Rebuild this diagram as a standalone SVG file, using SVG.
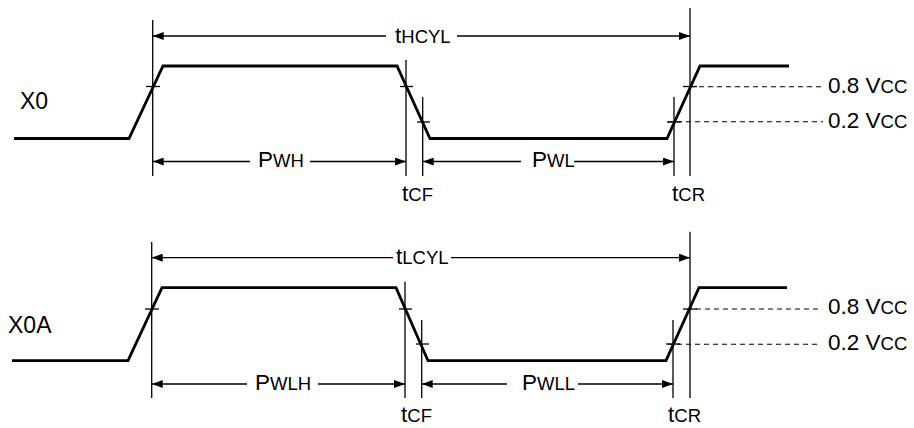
<svg xmlns="http://www.w3.org/2000/svg" width="914" height="428" viewBox="0 0 914 428">
<style>
.wave{fill:none;stroke:#000;stroke-width:2.8;stroke-linejoin:miter}
.ref{stroke:#000;stroke-width:1.3;fill:none}
.dim{stroke:#000;stroke-width:1.3;fill:none}
.dash{stroke:#000;stroke-width:1.1;stroke-dasharray:5 4;fill:none}
text{font-family:"Liberation Sans",Arial,sans-serif;font-size:22.5px;fill:#000}
.s{font-size:18.5px}
.lbl{font-size:23px}
</style>
<defs>
<marker id="ah" viewBox="0 0 11 8" refX="11" refY="4" markerWidth="11" markerHeight="8" markerUnits="userSpaceOnUse" orient="auto-start-reverse">
<path d="M0,0 L11,4 L0,8 Z" fill="#000"/>
</marker>
</defs>
<rect width="914" height="428" fill="#fff"/>

<g id="X0">
<polyline class="wave" points="14,138.5 129,138.5 163,66 397,66 430,138.5 667,138.5 700,66 789,66"/>
<text class="lbl" x="20" y="109">X0</text>
</g>
<g id="X0A">
<polyline class="wave" points="12,360.7 128,360.7 162,287.7 396,287.7 428,360.7 666,360.7 699,287.7 787,287.7"/>
<text class="lbl" x="8" y="333">X0A</text>
</g>

<g id="connectors">
<line class="ref" x1="152.7" y1="20" x2="152.7" y2="176"/>
<line class="ref" x1="406" y1="60" x2="406" y2="176"/>
<line class="ref" x1="422.7" y1="97" x2="422.7" y2="176"/>
<line class="ref" x1="674" y1="97" x2="674" y2="176"/>
<line class="ref" x1="690" y1="8" x2="690" y2="176"/>
<line class="ref" x1="146" y1="86.5" x2="160" y2="86.5"/>
<line class="ref" x1="400" y1="86.5" x2="413" y2="86.5"/>
<line class="ref" x1="417" y1="122" x2="430" y2="122"/>
<line class="ref" x1="667" y1="122" x2="681" y2="122"/>
<line class="ref" x1="683" y1="86.5" x2="697" y2="86.5"/>
<line class="dash" x1="690" y1="86.7" x2="823" y2="86.7"/>
<line class="dash" x1="668" y1="121.7" x2="823" y2="121.7"/>
<line class="dim" x1="152.7" y1="36" x2="386" y2="36" marker-start="url(#ah)"/>
<line class="dim" x1="457" y1="36" x2="690" y2="36" marker-end="url(#ah)"/>
<line class="dim" x1="152.7" y1="161.5" x2="250" y2="161.5" marker-start="url(#ah)"/>
<line class="dim" x1="310" y1="161.5" x2="406" y2="161.5" marker-end="url(#ah)"/>
<line class="dim" x1="422.7" y1="161.5" x2="521" y2="161.5" marker-start="url(#ah)"/>
<line class="dim" x1="574" y1="161.5" x2="674" y2="161.5" marker-end="url(#ah)"/>

<line class="ref" x1="151.7" y1="242" x2="151.7" y2="398"/>
<line class="ref" x1="405" y1="281.7" x2="405" y2="398"/>
<line class="ref" x1="421.7" y1="320" x2="421.7" y2="398"/>
<line class="ref" x1="673" y1="320" x2="673" y2="398"/>
<line class="ref" x1="690" y1="231.7" x2="690" y2="398"/>
<line class="ref" x1="145" y1="309" x2="159" y2="309"/>
<line class="ref" x1="399" y1="309" x2="412" y2="309"/>
<line class="ref" x1="416" y1="344" x2="429" y2="344"/>
<line class="ref" x1="666" y1="344" x2="680" y2="344"/>
<line class="ref" x1="683" y1="309" x2="697" y2="309"/>
<line class="dash" x1="687" y1="309" x2="821" y2="309"/>
<line class="dash" x1="668" y1="344.3" x2="821" y2="344.3"/>
<line class="dim" x1="151.7" y1="257.7" x2="393" y2="257.7" marker-start="url(#ah)"/>
<line class="dim" x1="451" y1="257.7" x2="690" y2="257.7" marker-end="url(#ah)"/>
<line class="dim" x1="151.7" y1="384" x2="247" y2="384" marker-start="url(#ah)"/>
<line class="dim" x1="318" y1="384" x2="405" y2="384" marker-end="url(#ah)"/>
<line class="dim" x1="421.7" y1="384" x2="507" y2="384" marker-start="url(#ah)"/>
<line class="dim" x1="578" y1="384" x2="673" y2="384" marker-end="url(#ah)"/>
</g>

<g id="labels">
<text x="395" y="43">t<tspan class="s">HCYL</tspan></text>
<text x="258" y="167">P<tspan class="s">WH</tspan></text>
<text x="532" y="167">P<tspan class="s">WL</tspan></text>
<text x="402" y="201">t<tspan class="s">CF</tspan></text>
<text x="672" y="201">t<tspan class="s">CR</tspan></text>
<text x="828" y="93">0.8 V<tspan class="s">CC</tspan></text>
<text x="828" y="128">0.2 V<tspan class="s">CC</tspan></text>

<text x="396" y="264">t<tspan class="s">LCYL</tspan></text>
<text x="255" y="390">P<tspan class="s">WLH</tspan></text>
<text x="522" y="390">P<tspan class="s">WLL</tspan></text>
<text x="401" y="422">t<tspan class="s">CF</tspan></text>
<text x="668" y="422">t<tspan class="s">CR</tspan></text>
<text x="828" y="314">0.8 V<tspan class="s">CC</tspan></text>
<text x="828" y="350">0.2 V<tspan class="s">CC</tspan></text>
</g>
</svg>
